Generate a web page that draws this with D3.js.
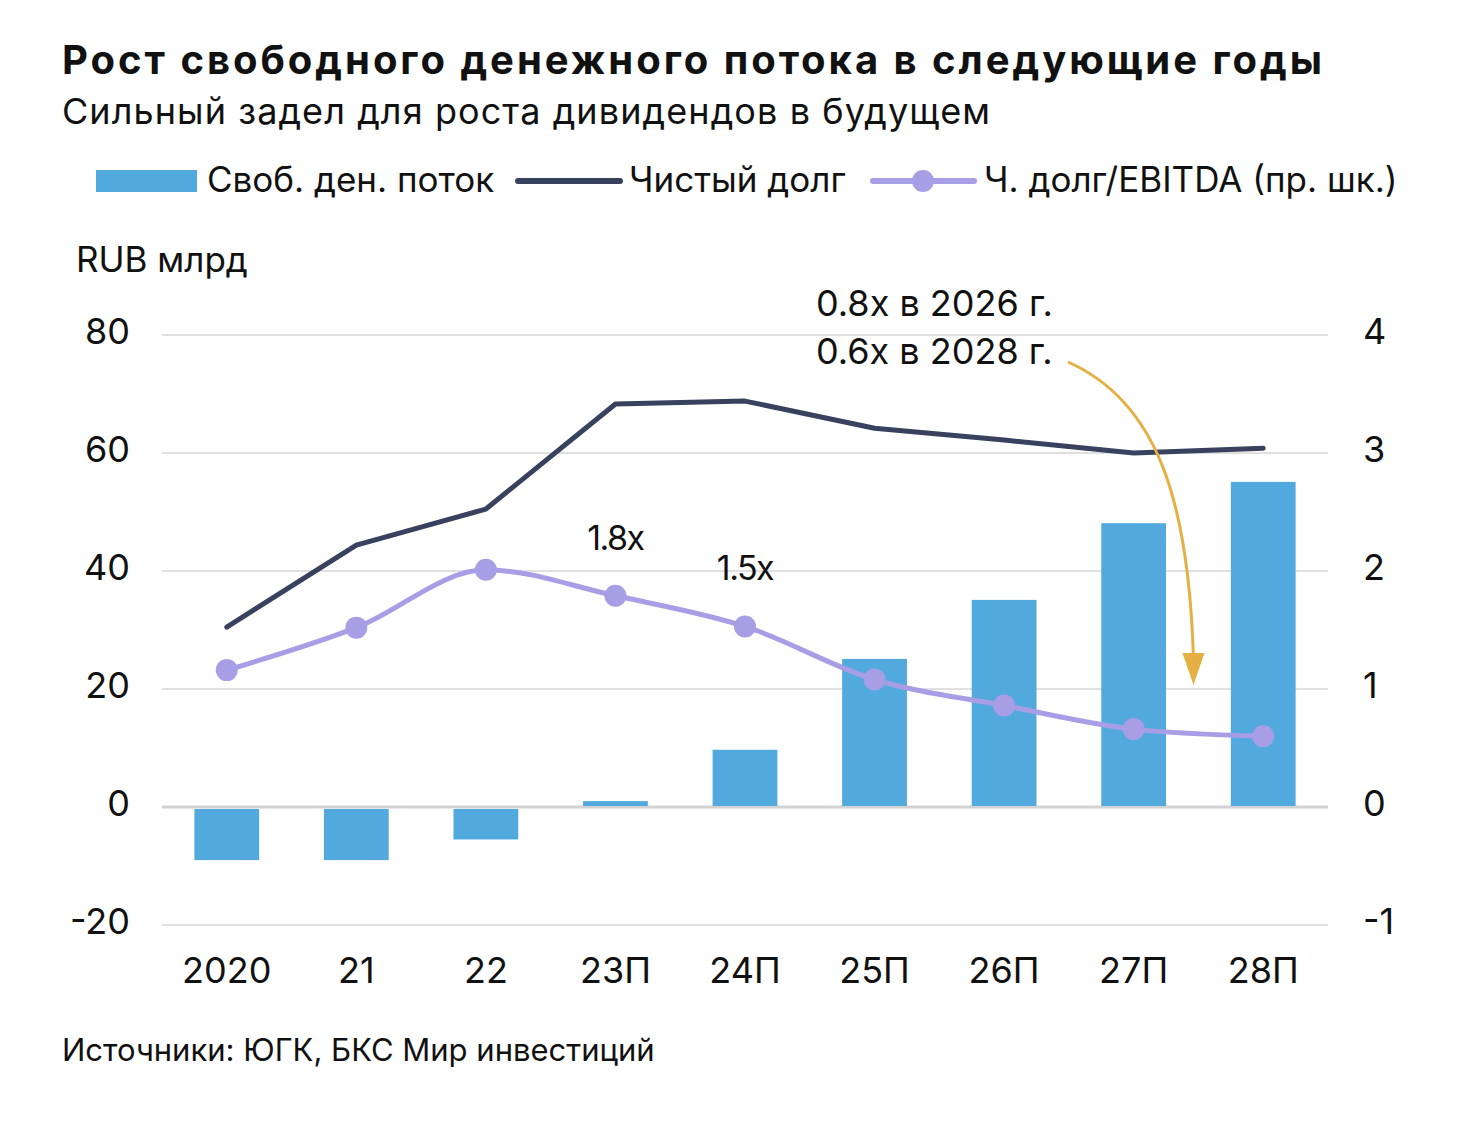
<!DOCTYPE html>
<html><head><meta charset="utf-8">
<script src="https://cdn.jsdelivr.net/npm/d3@7"></script>
<style>
html,body{margin:0;padding:0;background:#fff;}
svg text{font-family:Inter, "Noto Sans", sans-serif;fill:#111;}
</style></head>
<body>
<svg id="chart" width="1466" height="1124"></svg>
<script>
const categories = ["2020","21","22","23П","24П","25П","26П","27П","28П"];
const fcf = [-9, -9, -5.5, 1.0, 9.7, 25.1, 35.1, 48.1, 55.1];
const netDebt = [30.5, 44.4, 50.5, 68.3, 68.8, 64.2, 62.2, 60.0, 60.8];
const ratio = [1.16, 1.52, 2.01, 1.79, 1.53, 1.08, 0.86, 0.66, 0.60];
const leftTicks = [-20, 0, 20, 40, 60, 80];
const rightTicks = [-1, 0, 1, 2, 3, 4];
const pointLabels = [{i:3, text:"1.8x"}, {i:4, text:"1.5x"}];
const noteLines = ["0.8x в 2026 г.", "0.6x в 2028 г."];

const svg = d3.select("#chart");
const pLeft = 162, pRight = 1328, pTop = 335, pBottom = 925;
const FONT = "Inter, 'Noto Sans', sans-serif";

const x = d3.scaleBand().domain(categories).range([pLeft, pRight]).paddingInner(0.5).paddingOuter(0.25);
const y = d3.scaleLinear().domain([-20, 80]).range([pBottom, pTop]);
const y2 = d3.scaleLinear().domain([-1, 4]).range([pBottom, pTop]);

// Title
svg.append("text").attr("x", 62).attr("y", 74).attr("font-size", 40).attr("font-weight", 700)
  .attr("textLength", 1260).attr("lengthAdjust", "spacing")
  .text("Рост свободного денежного потока в следующие годы");
svg.append("text").attr("x", 62).attr("y", 124).attr("font-size", 36)
  .attr("textLength", 928).attr("lengthAdjust", "spacing")
  .text("Сильный задел для роста дивидендов в будущем");

// Legend
const lg = svg.append("g");
lg.append("rect").attr("x", 96).attr("y", 170).attr("width", 101).attr("height", 22).attr("fill", "#52A9DE");
lg.append("text").attr("x", 207).attr("y", 192).attr("font-size", 35).text("Своб. ден. поток");
lg.append("line").attr("x1", 518).attr("x2", 620).attr("y1", 181).attr("y2", 181)
  .attr("stroke", "#38425E").attr("stroke-width", 6).attr("stroke-linecap", "round");
lg.append("text").attr("x", 629).attr("y", 192).attr("font-size", 35).text("Чистый долг");
lg.append("line").attr("x1", 873).attr("x2", 974).attr("y1", 181).attr("y2", 181)
  .attr("stroke", "#A89EE6").attr("stroke-width", 6).attr("stroke-linecap", "round");
lg.append("circle").attr("cx", 923).attr("cy", 181).attr("r", 11).attr("fill", "#A89EE6");
lg.append("text").attr("x", 984).attr("y", 192).attr("font-size", 35).text("Ч. долг/EBITDA (пр. шк.)");

// Axis title
svg.append("text").attr("x", 76).attr("y", 272).attr("font-size", 35).text("RUB млрд");

// Gridlines
svg.append("g").selectAll("line").data(leftTicks).join("line")
  .attr("x1", pLeft).attr("x2", pRight)
  .attr("y1", d => y(d)).attr("y2", d => y(d))
  .attr("stroke", d => d === 0 ? "#D2D2D2" : "#E0E0E0").attr("stroke-width", d => d === 0 ? 3 : 2);

// Left axis
const la = svg.append("g").attr("transform", `translate(${pLeft},0)`)
  .call(d3.axisLeft(y).tickValues(leftTicks).tickSize(0).tickPadding(32).tickFormat(d => String(d)));
la.select(".domain").remove();
la.selectAll("text").attr("font-size", 36).attr("font-family", FONT).attr("fill", "#111").attr("dy", "0.24em");

// Right axis
const ra = svg.append("g").attr("transform", `translate(${pRight},0)`)
  .call(d3.axisRight(y2).tickValues(rightTicks).tickSize(0).tickPadding(35).tickFormat(d => String(d)));
ra.select(".domain").remove();
ra.selectAll("text").attr("font-size", 36).attr("font-family", FONT).attr("fill", "#111").attr("dy", "0.24em");

// Bottom axis
const ba = svg.append("g").attr("transform", `translate(0,${pBottom})`)
  .call(d3.axisBottom(x).tickSize(0).tickPadding(32));
ba.select(".domain").remove();
ba.selectAll("text").attr("font-size", 36).attr("font-family", FONT).attr("fill", "#111").attr("dy", "0.71em");

// Bars
svg.append("g").selectAll("rect").data(fcf).join("rect")
  .attr("x", (d, i) => x(categories[i]))
  .attr("width", x.bandwidth())
  .attr("y", d => d >= 0 ? y(d) : y(0) + 2)
  .attr("height", d => Math.abs(y(d) - y(0)) - (d >= 0 ? 1 : 2))
  .attr("fill", "#52A9DE");

// Net debt line
const xc = i => x(categories[i]) + x.bandwidth() / 2;
svg.append("path").datum(netDebt)
  .attr("d", d3.line().x((d, i) => xc(i)).y(d => y(d)))
  .attr("fill", "none").attr("stroke", "#38425E").attr("stroke-width", 5).attr("stroke-linecap", "round").attr("stroke-linejoin", "round");

// Ratio line
svg.append("path").datum(ratio)
  .attr("d", d3.line().x((d, i) => xc(i)).y(d => y2(d)).curve(d3.curveMonotoneX))
  .attr("fill", "none").attr("stroke", "#A89EE6").attr("stroke-width", 5).attr("stroke-linecap", "round");
svg.append("g").selectAll("circle").data(ratio).join("circle")
  .attr("cx", (d, i) => xc(i)).attr("cy", d => y2(d)).attr("r", 11).attr("fill", "#A89EE6");

// Point labels
svg.append("g").selectAll("text").data(pointLabels).join("text")
  .attr("x", d => xc(d.i)).attr("y", d => y2(ratio[d.i]) - 46)
  .attr("text-anchor", "middle").attr("font-size", 34).attr("letter-spacing", "-1.5")
  .text(d => d.text);

// Note
svg.append("g").selectAll("text").data(noteLines).join("text")
  .attr("x", 816).attr("y", (d, i) => 316 + i * 48).attr("font-size", 36)
  .text(d => d);

// Arrow
const ax0 = 1068, ay0 = 362;
const ax1 = (xc(7) + xc(8)) / 2 - 5, ay1 = y2(1.0) - 4;
svg.append("path")
  .attr("d", `M${ax0},${ay0} C${ax0 + 90},${ay0 + 40} ${ax1 - 5},${ay0 + 140} ${ax1},${ay1 - 28}`)
  .attr("fill", "none").attr("stroke", "#E5B043").attr("stroke-width", 3);
svg.append("path")
  .attr("d", `M${ax1 - 11},${ay1 - 32} L${ax1 + 11},${ay1 - 32} L${ax1},${ay1} Z`)
  .attr("fill", "#E5B043");

// Source
svg.append("text").attr("x", 62).attr("y", 1061).attr("font-size", 31).text("Источники: ЮГК, БКС Мир инвестиций");
</script>
</body></html>
